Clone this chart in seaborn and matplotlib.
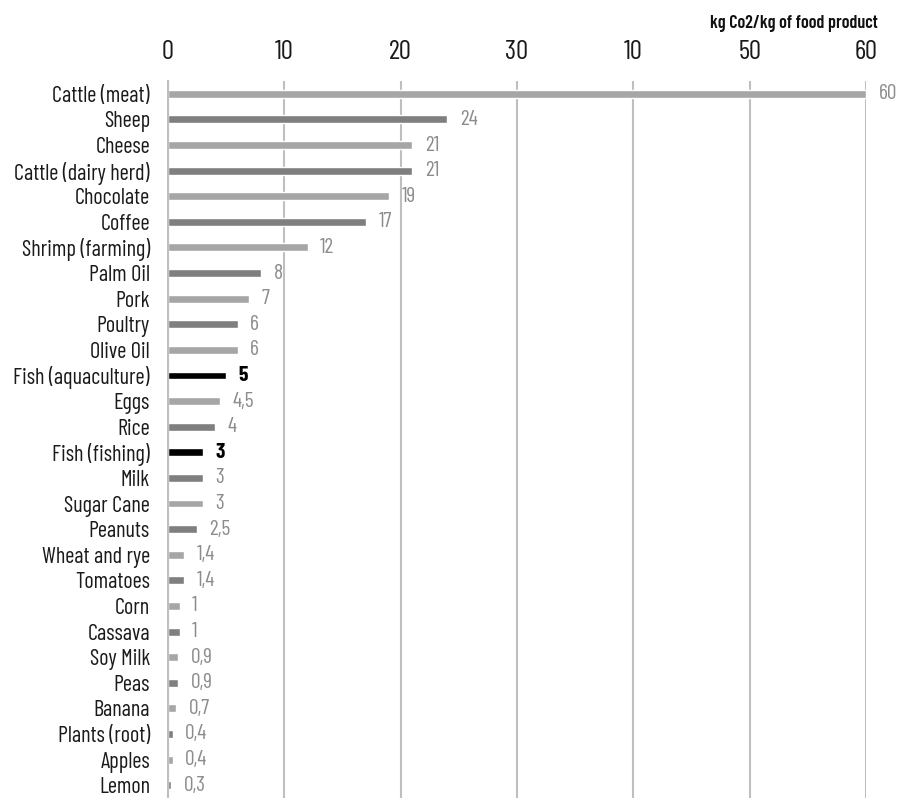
import matplotlib
matplotlib.use("Agg")
import matplotlib.pyplot as plt
import seaborn as sns
import pandas as pd

categories = ["Cattle (meat)", "Sheep", "Cheese", "Cattle (dairy herd)", "Chocolate", "Coffee",
              "Shrimp (farming)", "Palm Oil", "Pork", "Poultry", "Olive Oil", "Fish (aquaculture)",
              "Eggs", "Rice", "Fish (fishing)", "Milk", "Sugar Cane", "Peanuts", "Wheat and rye",
              "Tomatoes", "Corn", "Cassava", "Soy Milk", "Peas", "Banana", "Plants (root)",
              "Apples", "Lemon"]
values = [60, 24, 21, 21, 19, 17, 12, 8, 7, 6, 6, 5, 4.5, 4, 3, 3, 3, 2.5, 1.4, 1.4, 1, 1,
          0.9, 0.9, 0.7, 0.4, 0.4, 0.3]
highlight = ["Fish (aquaculture)", "Fish (fishing)"]
tick_values = [0, 10, 20, 30, 40, 50, 60]
tick_labels = ["0", "10", "20", "30", "10", "50", "60"]
axis_title = "kg Co2/kg of food product"

LIGHT = "#a6a6a6"
DARK = "#7f7f7f"
BLACK = "#000000"
LABEL_GRAY = "#8c8c8c"
FONT = ["Barlow Condensed", "DejaVu Sans"]

sns.set_theme(style="white")
plt.rcParams["font.family"] = FONT

colors = []
for i, c in enumerate(categories):
    if c in highlight:
        colors.append(BLACK)
    else:
        colors.append(LIGHT if i % 2 == 0 else DARK)

df = pd.DataFrame({"category": categories, "value": values})

fig = plt.figure(figsize=(9.1, 7.98), dpi=100)
ax = fig.add_axes([168 / 910, 0, (866 - 168) / 910, (798 - 81) / 798])

sns.barplot(data=df, x="value", y="category", hue="category", palette=colors,
            legend=False, width=0.31, ax=ax, saturation=1)

ax.set_xlim(0, 60)
ax.set_ylim(len(categories) - 0.5, -0.5)
ax.set_xticks(tick_values)
ax.set_xticklabels(tick_labels, fontsize=19.5, color="#1a1a1a")
ax.xaxis.tick_top()
ax.tick_params(axis="x", length=0, pad=12)
ax.tick_params(axis="y", length=0, pad=13, labelsize=16, labelcolor="#1a1a1a")
ax.set_xlabel("")
ax.set_ylabel("")
ax.grid(axis="x", color="#bfbfbf", linewidth=1.5)
ax.set_axisbelow(True)
for s in ["top", "right", "bottom"]:
    ax.spines[s].set_visible(False)
ax.spines["left"].set_color("#bfbfbf")
ax.spines["left"].set_linewidth(1.5)

for i, (c, v) in enumerate(zip(categories, values)):
    txt = f"{v:g}".replace(".", ",")
    hl = c in highlight
    ax.annotate(txt, xy=(v, i), xytext=(9, 0), textcoords="offset points",
                va="center", ha="left", fontsize=15.5,
                color=BLACK if hl else LABEL_GRAY,
                fontweight="bold" if hl else "normal", annotation_clip=False)

fig.text(878 / 910, 1 - 24 / 798, axis_title, ha="right", va="center",
         fontsize=13, fontweight="semibold", color="#111111")

fig.savefig("out.png", dpi=100)
